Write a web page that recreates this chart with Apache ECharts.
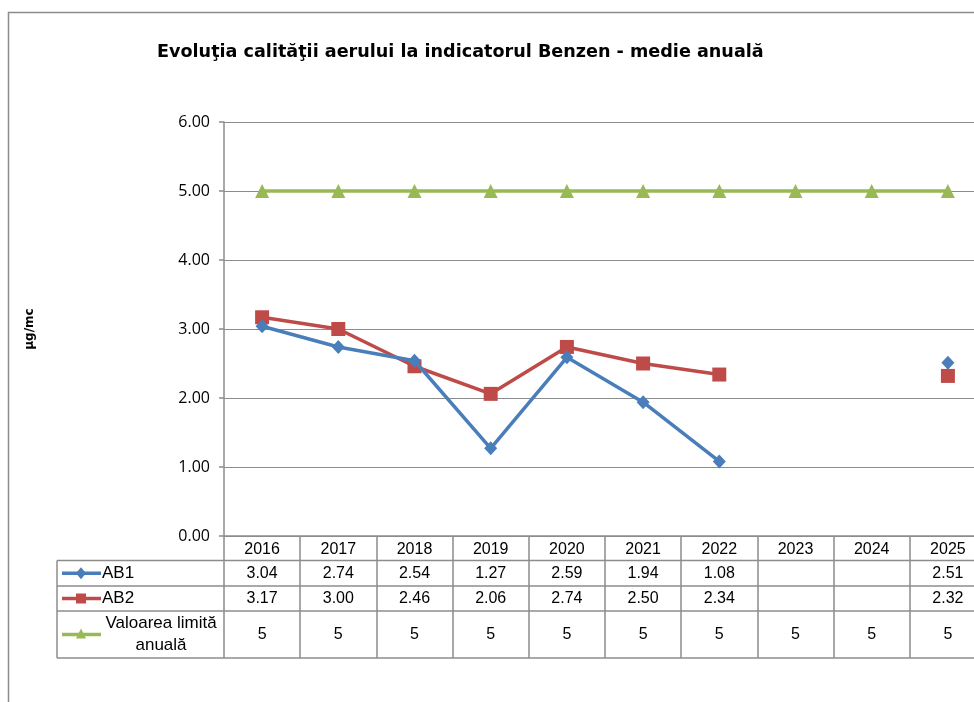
<!DOCTYPE html>
<html>
<head>
<meta charset="utf-8">
<title>Benzen</title>
<script src="https://cdn.jsdelivr.net/npm/echarts@6/dist/echarts.min.js"></script>
<style>
  html, body { margin: 0; padding: 0; background: #fff; }
  #chart { width: 974px; height: 702px; }
</style>
</head>
<body>
<div id="chart"></div>
<script type="text/javascript">
// date
var years = ['2016', '2017', '2018', '2019', '2020', '2021', '2022', '2023', '2024', '2025'];
var ab1 = [3.04, 2.74, 2.54, 1.27, 2.59, 1.94, 1.08, null, null, 2.51];
var ab2 = [3.17, 3.00, 2.46, 2.06, 2.74, 2.50, 2.34, null, null, 2.32];
var limita = [5, 5, 5, 5, 5, 5, 5, 5, 5, 5];
var yTicks = [0, 1, 2, 3, 4, 5, 6];

var cBlue = '#4a7ebb', cRed = '#be4b48', cGreen = '#98b954', cGrid = '#8c8c8c';
var tableFont = '"Liberation Sans", Arial, sans-serif';

var myChart = echarts.init(document.getElementById('chart'));

myChart.setOption({
  animation: false,
  backgroundColor: '#fff',
  title: {
    text: 'Evoluţia calităţii aerului la indicatorul Benzen - medie anuală',
    left: 152, top: 38,
    textStyle: { fontFamily: '"DejaVu Sans", sans-serif', fontWeight: 'bold', fontSize: 17.6, color: '#000' }
  },
  // graficul continua dincolo de marginea dreapta, ca in original
  grid: { left: 224, top: 122, width: 762, height: 414, containLabel: false, outerBoundsMode: 'none' },
  xAxis: {
    type: 'category',
    data: years,
    boundaryGap: true,
    axisLine: { lineStyle: { color: cGrid, width: 1.5 } },
    axisTick: { show: true, length: 122, interval: 0, lineStyle: { color: cGrid, width: 1.5 } },
    axisLabel: { interval: 0, margin: 6, fontFamily: tableFont, fontSize: 16, color: '#000' }
  },
  yAxis: {
    type: 'value',
    min: yTicks[0], max: yTicks[yTicks.length - 1], interval: 1,
    name: 'µg/mc',
    nameLocation: 'middle', nameRotate: 90, nameGap: 188,
    nameTextStyle: { fontFamily: '"DejaVu Sans", sans-serif', fontWeight: 'bold', fontSize: 12, color: '#000' },
    axisLine: { show: true, lineStyle: { color: cGrid, width: 1.5 } },
    axisTick: { show: true, length: 5, lineStyle: { color: cGrid, width: 1.5 } },
    axisLabel: { margin: 14, fontFamily: '"Open Sans", sans-serif', fontSize: 16, color: '#000',
      formatter: function (v) { return v.toFixed(2); } },
    splitLine: { lineStyle: { color: cGrid, width: 1.2 } }
  },
  series: [
    { name: 'AB1', type: 'line', data: ab1, connectNulls: false, symbol: 'diamond', symbolSize: [13, 14],
      showSymbol: true, showAllSymbol: true,
      lineStyle: { color: cBlue, width: 3.5 }, itemStyle: { color: cBlue }, z: 4 },
    { name: 'AB2', type: 'line', data: ab2, connectNulls: false, symbol: 'rect', symbolSize: 14,
      showSymbol: true, showAllSymbol: true,
      lineStyle: { color: cRed, width: 3.5 }, itemStyle: { color: cRed }, z: 3 },
    { name: 'Valoarea limită anuală', type: 'line', data: limita, symbol: 'triangle', symbolSize: 14,
      showSymbol: true, showAllSymbol: true,
      lineStyle: { color: cGreen, width: 3.5 }, itemStyle: { color: cGreen }, z: 2 }
  ]
});

// tabelul de date sub grafic, pozitionat dupa axele graficului
var y0 = myChart.convertToPixel({ yAxisIndex: 0 }, 0);
var xLeft = 57;
var rowEdges = [y0 + 24.5, y0 + 50, y0 + 75, y0 + 122];
var rows = [
  { label: 'AB1', values: ab1, color: cBlue, symbol: 'diamond', fmt: function (v) { return v == null ? '' : v.toFixed(2); } },
  { label: 'AB2', values: ab2, color: cRed, symbol: 'rect', fmt: function (v) { return v == null ? '' : v.toFixed(2); } },
  { label: 'Valoarea limită\nanuală', values: limita, color: cGreen, symbol: 'triangle', fmt: function (v) { return v == null ? '' : String(v); } }
];

var els = [];
// chenarul exterior
els.push({ type: 'rect', shape: { x: 8.5, y: 12.5, width: 1200, height: 1200 }, style: { fill: null, stroke: '#8c8c8c', lineWidth: 1.5 }, silent: true });
// linii orizontale
rowEdges.forEach(function (y) {
  els.push({ type: 'line', shape: { x1: xLeft, y1: y, x2: 1000, y2: y }, style: { stroke: cGrid, lineWidth: 1.5 } });
});
els.push({ type: 'line', shape: { x1: xLeft, y1: rowEdges[0], x2: xLeft, y2: rowEdges[3] }, style: { stroke: cGrid, lineWidth: 1.5 } });

rows.forEach(function (r, ri) {
  var cy = (rowEdges[ri] + rowEdges[ri + 1]) / 2;
  // legenda
  els.push({ type: 'line', shape: { x1: 62, y1: cy, x2: 101, y2: cy }, style: { stroke: r.color, lineWidth: 3.5 } });
  var sym;
  if (r.symbol === 'diamond') {
    sym = { type: 'polygon', shape: { points: [[81, cy - 6], [86, cy], [81, cy + 6], [76, cy]] }, style: { fill: r.color } };
  } else if (r.symbol === 'rect') {
    sym = { type: 'rect', shape: { x: 76, y: cy - 5, width: 10, height: 10 }, style: { fill: r.color } };
  } else {
    sym = { type: 'polygon', shape: { points: [[81, cy - 6], [86, cy + 4], [76, cy + 4]] }, style: { fill: r.color } };
  }
  els.push(sym);
  if (ri < 2) {
    els.push({ type: 'text', style: { text: r.label, x: 102, y: cy, textVerticalAlign: 'middle', font: '17px ' + tableFont, fill: '#000' } });
  } else {
    els.push({ type: 'text', style: { text: r.label, x: 161, y: cy, textAlign: 'center', textVerticalAlign: 'middle', lineHeight: 22, font: '17px ' + tableFont, fill: '#000' } });
  }
  // valorile
  r.values.forEach(function (v, i) {
    var cx = myChart.convertToPixel({ xAxisIndex: 0 }, i);
    els.push({ type: 'text', style: { text: r.fmt(v), x: cx, y: cy, textAlign: 'center', textVerticalAlign: 'middle', font: '16px ' + tableFont, fill: '#000' } });
  });
});

myChart.setOption({ graphic: els });
</script>
</body>
</html>
